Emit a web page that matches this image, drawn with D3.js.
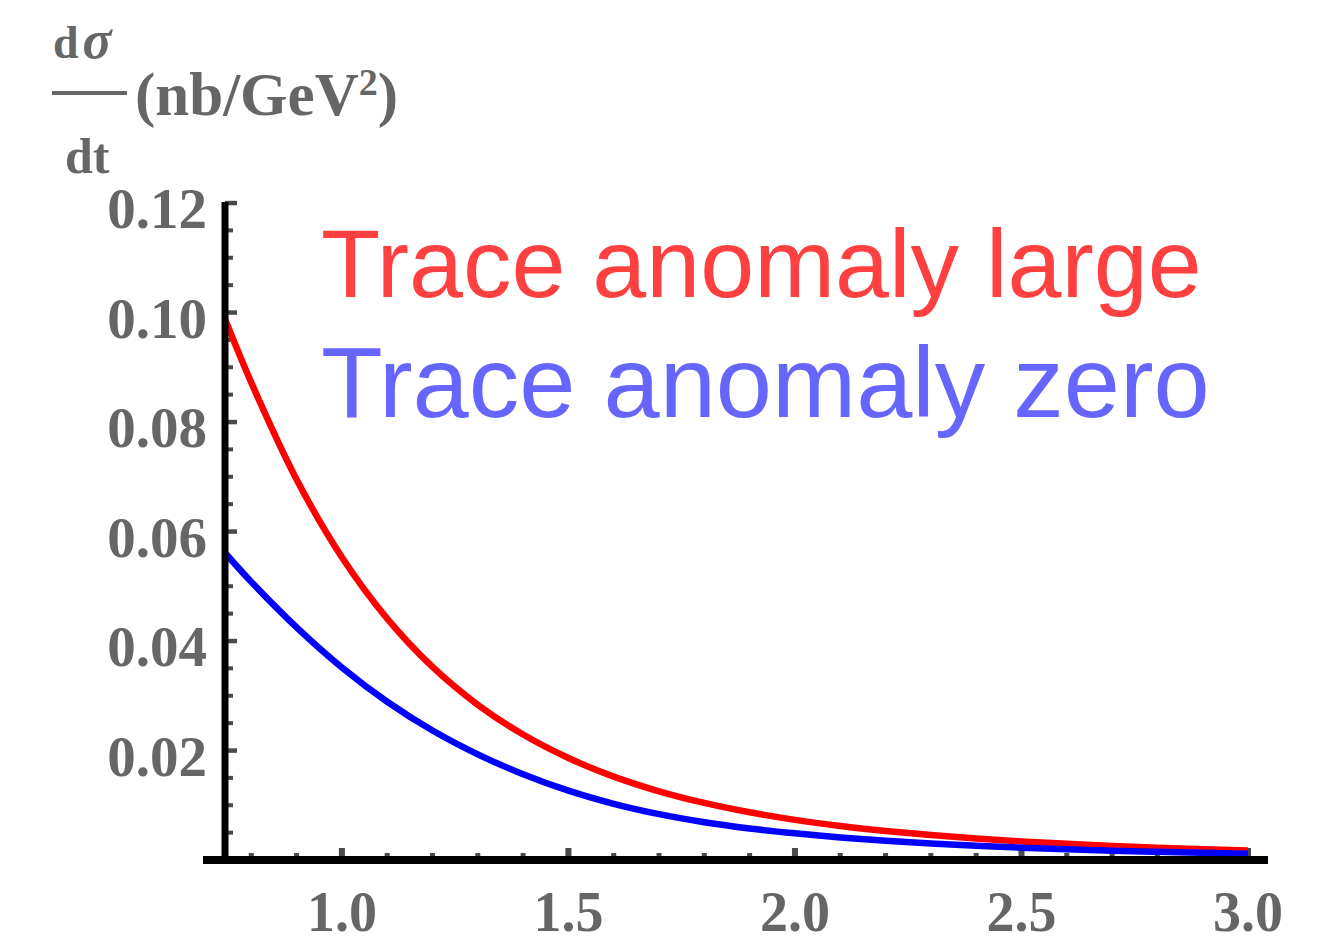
<!DOCTYPE html>
<html>
<head>
<meta charset="utf-8">
<script src="https://cdn.jsdelivr.net/npm/d3@7"></script>
<style>
  html, body { margin: 0; padding: 0; background: #fff; }
  svg { display: block; }
</style>
</head>
<body>
<svg id="chart" width="1338" height="942"></svg>
<script>
// Momentum transfer |t| (GeV^2) sampled along the curves
const tValues = [0.742, 0.8, 0.9, 1.0, 1.1, 1.2, 1.3, 1.4, 1.5, 1.6, 1.7, 1.8, 1.9, 2.0,
                 2.1, 2.2, 2.3, 2.4, 2.5, 2.6, 2.7, 2.8, 2.9, 3.0];
// dσ/dt (nb/GeV^2) with a large trace anomaly contribution
const largeAnomaly = [0.09880, 0.08720, 0.06950, 0.05530, 0.04408, 0.03526, 0.02835, 0.02291, 0.01862,
                      0.01523, 0.01255, 0.01042, 0.00871, 0.00733, 0.00622, 0.00531, 0.00455, 0.00392,
                      0.00340, 0.00295, 0.00258, 0.00225, 0.00198, 0.00174];
// dσ/dt (nb/GeV^2) with the trace anomaly set to zero
const zeroAnomaly = [0.05610, 0.05080, 0.04250, 0.03517, 0.02891, 0.02365, 0.01930, 0.01567, 0.01266,
                     0.01026, 0.00837, 0.00690, 0.00576, 0.00487, 0.00413, 0.00352, 0.00302, 0.00260,
                     0.00225, 0.00196, 0.00171, 0.00150, 0.00131, 0.00116];

const xTicks = [1.0, 1.5, 2.0, 2.5, 3.0];
const xTickLabels = ["1.0", "1.5", "2.0", "2.5", "3.0"];
const yTicks = [0.02, 0.04, 0.06, 0.08, 0.10, 0.12];
const yTickLabels = ["0.02", "0.04", "0.06", "0.08", "0.10", "0.12"];
const seriesNames = ["Trace anomaly large", "Trace anomaly zero"];

const svg = d3.select("#chart");

const x = d3.scaleLinear().domain([0.742, 3.0]).range([225, 1248]);
const y = d3.scaleLinear().domain([0, 0.12]).range([860, 203]);

const tickColor = "#4a4a4a";
const labelColor = "#666";
const serif = "'Liberation Serif', 'Times New Roman', serif";

// minor ticks
const xMinor = d3.range(8, 31).map(d => d / 10).filter(d => !xTicks.some(t => Math.abs(t - d) < 1e-9));
const yMinor = d3.range(1, 25).map(d => d * 0.005).filter(d => !yTicks.some(t => Math.abs(t - d) < 1e-9));

const g = svg.append("g");

// y ticks (pointing inside, to the right)
g.selectAll(".ymin").data(yMinor).join("rect")
  .attr("x", 225).attr("y", d => y(d) - 2).attr("width", 8).attr("height", 4).attr("fill", tickColor);
g.selectAll(".ymaj").data(yTicks).join("rect")
  .attr("x", 225).attr("y", d => y(d) - 2.2).attr("width", 12).attr("height", 4.5).attr("fill", tickColor);

// x ticks (pointing up)
g.selectAll(".xmin").data(xMinor).join("rect")
  .attr("x", d => x(d) - 2.5).attr("y", 853).attr("width", 5).attr("height", 7).attr("fill", tickColor);
g.selectAll(".xmaj").data(xTicks).join("rect")
  .attr("x", d => x(d) - 3).attr("y", 848).attr("width", 6).attr("height", 12).attr("fill", tickColor);

// curves
const line = d3.line().x(d => x(d[0])).y(d => y(d[1])).curve(d3.curveCatmullRom.alpha(0.5));
const curves = [
  { values: largeAnomaly, color: "#ff0000" },
  { values: zeroAnomaly, color: "#0000ff" }
];
svg.append("clipPath").attr("id", "plot-clip")
  .append("rect").attr("x", 228).attr("y", 0).attr("width", 1110).attr("height", 942);
curves.forEach(c => {
  svg.append("path")
    .datum(tValues.map((t, i) => [t, c.values[i]]))
    .attr("d", line)
    .attr("clip-path", "url(#plot-clip)")
    .attr("fill", "none")
    .attr("stroke", c.color)
    .attr("stroke-width", 6.5)
    .attr("stroke-linejoin", "round");
});

// axis lines
svg.append("line").attr("x1", 225).attr("x2", 225).attr("y1", 202).attr("y2", 864)
  .attr("stroke", "#000").attr("stroke-width", 7);
svg.append("line").attr("x1", 203).attr("x2", 1268).attr("y1", y(0)).attr("y2", y(0))
  .attr("stroke", "#000").attr("stroke-width", 8);

// tick labels
svg.selectAll(".ylab").data(yTicks).join("text")
  .attr("x", 207).attr("y", d => y(d) + 25)
  .attr("text-anchor", "end")
  .attr("font-family", serif).attr("font-weight", "bold").attr("font-size", 57)
  .attr("fill", labelColor)
  .text((d, i) => yTickLabels[i]);

svg.selectAll(".xlab").data(xTicks).join("text")
  .attr("x", d => x(d)).attr("y", 931)
  .attr("text-anchor", "middle")
  .attr("font-family", serif).attr("font-weight", "bold").attr("font-size", 56)
  .attr("fill", labelColor)
  .text((d, i) => xTickLabels[i]);

// y-axis title: dσ/dt (nb/GeV²)
const title = svg.append("g").attr("fill", labelColor).attr("font-family", serif).attr("font-weight", "bold");
const num = title.append("text").attr("x", 53).attr("y", 58);
num.append("tspan").attr("font-size", 46).text("d");
num.append("tspan").attr("font-size", 54).attr("font-style", "italic").attr("dx", 4).text("σ");
title.append("rect").attr("x", 52).attr("y", 91).attr("width", 75).attr("height", 4);
title.append("text").attr("x", 65).attr("y", 173).attr("font-size", 50).text("dt");
const unit = title.append("text").attr("x", 135).attr("y", 115).attr("font-size", 61);
unit.append("tspan").text("(nb/GeV");
unit.append("tspan").attr("font-size", 38).attr("dy", -20).text("2");
unit.append("tspan").attr("dy", 20).text(")");

// legend text
const sans = "'Liberation Sans', Arial, sans-serif";
svg.append("text").attr("x", 321).attr("y", 297)
  .attr("font-family", sans).attr("font-size", 97).attr("fill", "#ff4040")
  .text(seriesNames[0]);
svg.append("text").attr("x", 321).attr("y", 417)
  .attr("font-family", sans).attr("font-size", 101).attr("fill", "#6666ff")
  .text(seriesNames[1]);
</script>
</body>
</html>
